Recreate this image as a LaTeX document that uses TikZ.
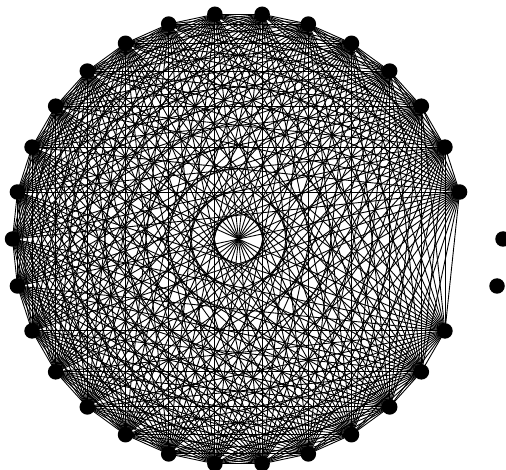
\documentclass[tikz,border=0pt]{standalone}
\begin{document}
\begin{tikzpicture}[x=1pt,y=-1pt,
  vtx/.style={circle,fill=black,draw=none,inner sep=0pt,minimum size=15.5pt},
  edge/.style={line width=0.9pt,black}]
\useasboundingbox (0,0) rectangle (506,470);
\foreach \k in {1,...,28} {
  \node[vtx] (v\k) at ({238.5+226*cos(12*\k)},{239-226*sin(12*\k)}) {};
}
\node[vtx] (u0) at (503,239) {};
\node[vtx] (u1) at (497,286) {};
\foreach \i in {1,...,27} {
  \pgfmathtruncatemacro\s{\i+1}
  \foreach \j in {\s,...,28} {
    \draw[edge] (v\i.center) -- (v\j.center);
  }
}
\end{tikzpicture}
\end{document}
